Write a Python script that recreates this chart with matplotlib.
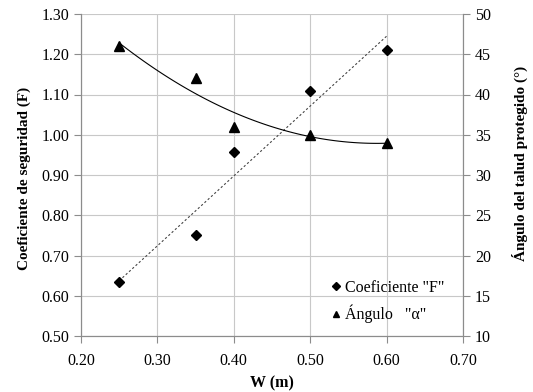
import matplotlib
matplotlib.use("Agg")
import matplotlib.pyplot as plt
import numpy as np

w = [0.25, 0.35, 0.40, 0.50, 0.60]
coef_f = [0.635, 0.752, 0.957, 1.108, 1.210]
angulo = [46.0, 42.0, 36.0, 35.0, 34.0]

plt.rcParams['font.family'] = ['Liberation Serif', 'DejaVu Serif']
fig = plt.figure(figsize=(5.33, 3.92), dpi=100)
ax = fig.add_axes([81/533, 1-336/392, (463-81)/533, (336-14)/392])
ax2 = ax.twinx()

grid_c = '#c8c8c8'
# trend lines
p1 = np.polyfit(w, coef_f, 1)
xs = np.linspace(min(w), max(w), 100)
ax.plot(xs, np.polyval(p1, xs), color='#444444', lw=0.8, ls=(0, (2, 2)), zorder=2)
p2 = np.polyfit(w, angulo, 2)
ax2.plot(xs, np.polyval(p2, xs), color='black', lw=0.8, zorder=2)

h1, = ax.plot(w, coef_f, 'D', color='black', ms=5, ls='none', zorder=3)
h2, = ax2.plot(w, angulo, '^', color='black', ms=6.5, ls='none', zorder=3)

ax.set_xlim(0.2, 0.7)
ax.set_ylim(0.5, 1.3)
ax2.set_ylim(10, 50)
ax.set_xticks(np.arange(0.2, 0.71, 0.1))
ax.set_xticklabels([f"{v:.2f}" for v in np.arange(0.2, 0.71, 0.1)])
ax.set_yticks(np.arange(0.5, 1.31, 0.1))
ax.set_yticklabels([f"{v:.2f}" for v in np.arange(0.5, 1.31, 0.1)])
ax2.set_yticks(np.arange(10, 51, 5))

ax.grid(True, color=grid_c, lw=0.8)
ax.set_axisbelow(True)
for a in (ax, ax2):
    for s in a.spines.values():
        s.set_color('#8c8c8c')
        s.set_linewidth(0.8)
    a.tick_params(colors='#8c8c8c', labelcolor='black', labelsize=11.5, length=5, width=0.8, direction='out')
ax.tick_params(axis='x', pad=7)
ax.spines['top'].set_visible(False)
ax2.spines['top'].set_visible(False)

ax.set_xlabel('W (m)', fontsize=11.5, fontweight='bold')
ax.xaxis.set_label_coords(0.5, -0.122)
ax.set_ylabel('Coeficiente de seguridad (F)', fontsize=11, fontweight='bold')
ax.yaxis.set_label_coords(-0.13, 0.49)
ax2.set_ylabel('Ángulo del talud protegido (°)', fontsize=11, fontweight='bold')
ax2.yaxis.set_label_coords(1.128, 0.537)

leg = ax2.legend([h1, h2], ['Coeficiente "F"', 'Ángulo   "α"'], loc='lower right',
                 bbox_to_anchor=(0.985, 0.0), frameon=False, fontsize=11.5,
                 handletextpad=0.05, handlelength=1.0, markerscale=0.75, labelspacing=0.55,
                 borderpad=0.3)

fig.savefig('out.png', dpi=100)
